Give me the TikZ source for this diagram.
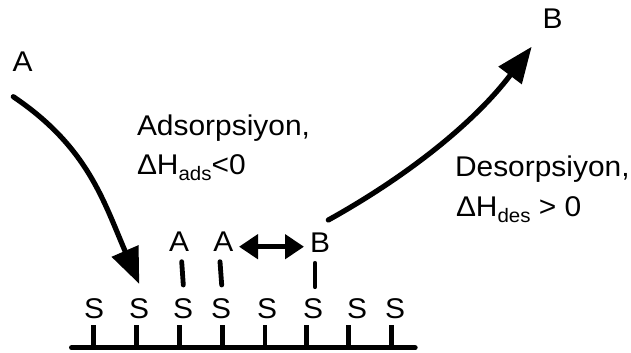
\documentclass[tikz,border=0pt]{standalone}
\usepackage{fontspec}
\setmainfont{Liberation Sans}[FakeStretch=1.05]
\usetikzlibrary{arrows.meta}
% lowered, smaller text for the enthalpy subscripts
\newcommand\subtxt[1]{\raisebox{-6bp}{\fontsize{19.5bp}{20bp}\selectfont #1}}
\begin{document}
\begin{tikzpicture}[x=1bp,y=-1bp,
  lbl/.style={inner sep=0pt,outer sep=0pt,font=\fontsize{28.5bp}{34bp}\selectfont,anchor=base},
  txt/.style={lbl,anchor=base west},
  pathline/.style={line width=5.2bp,line cap=round},
  bond/.style={line width=4.8bp,line cap=round},
  tick/.style={line width=4.6bp},
  bigtip/.style={-{Triangle[length=36bp,width=28bp]}},
  swaptip/.style={{Triangle[length=19bp,width=24bp]}-{Triangle[length=19bp,width=24bp]}}
]
\useasboundingbox (0,0) rectangle (631,352);

% gas-phase species
\node[lbl] (Agas) at (22.5,71.7) {A};
\node[lbl] (Bgas) at (552.5,28.3) {B};

% process labels
\node[txt] (ads1) at (137,135) {Adsorpsiyon,};
\node[txt] (ads2) at (137,174) {ΔH\subtxt{ads}<0};
\node[txt] (des1) at (455,176) {Desorpsiyon,};
\node[txt] (des2) at (456,216) {ΔH\subtxt{des} > 0};

% surface sites
\foreach \i/\sx/\tx in {1/94/93.3,2/139/136.7,3/183/179.3,4/221/222.3,5/267/265,6/313/306.7,7/357/348.3,8/395/391.7}{
  \node[lbl] (S\i) at (\sx,318) {S};
  \coordinate (t\i) at (\tx,325);
  \coordinate (b\i) at (\tx,347.7);
}

% adsorbed species
\node[lbl] (A1) at (179,251.7) {A};
\node[lbl] (A2) at (223.3,251.7) {A};
\node[lbl] (Bs) at (320,252.7) {B};

% surface line and site ticks
\coordinate (sl) at (71.7,347.7);
\coordinate (sr) at (415,347.7);
\draw[line width=5.4bp,line cap=round] (sl) -- (sr);
\foreach \i in {1,...,8}{\draw[tick] (t\i) -- (b\i);}

% bonds to the sites
\coordinate (bA1t) at (181.7,261.7); \coordinate (bA1b) at (183.3,285);
\coordinate (bA2t) at (220,261.7);   \coordinate (bA2b) at (221.7,285);
\coordinate (bBt)  at (315,263.3);   \coordinate (bBb)  at (315,286.7);
\draw[bond] (bA1t) -- (bA1b);
\draw[bond] (bA2t) -- (bA2b);
\draw[bond] (bBt) -- (bBb);

% surface reaction
\coordinate (rxl) at (239,246.7);
\coordinate (rxr) at (304,246.7);
\draw[line width=5bp,swaptip] (rxl) -- (rxr);

% adsorption path
\coordinate (adsS) at (13.3,96.7);
\coordinate (adsE) at (139.3,284);
\draw[pathline,bigtip] (adsS) .. controls (88,147) and (103.6,201.4) .. (adsE);

% desorption path
\coordinate (desS) at (328.3,220);
\coordinate (desE) at (531.7,46.7);
\draw[pathline,bigtip] (desS) .. controls (409.6,174.9) and (475.7,121) .. (desE);
\end{tikzpicture}
\end{document}
